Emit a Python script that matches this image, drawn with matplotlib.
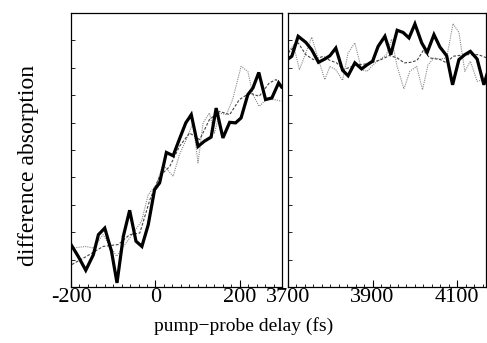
import matplotlib
matplotlib.use("Agg")
import matplotlib.pyplot as plt
from matplotlib.ticker import MultipleLocator, NullFormatter

plt.rcParams['font.family'] = ['Liberation Serif', 'DejaVu Serif']

# ---- left panel (early delays) ----
left_x_thick = [-200, -183, -165, -147, -135, -120, -104, -91, -76, -61, -46, -32, -17, -2,
                10, 26, 42, 57, 72, 85, 101, 116, 132, 144, 160, 176, 190, 203, 219, 231,
                245, 261, 276, 292, 299]
left_y_thick = [0.155, 0.112, 0.061, 0.118, 0.191, 0.215, 0.130, 0.015, 0.185, 0.280, 0.167,
                0.148, 0.227, 0.355, 0.380, 0.491, 0.479, 0.540, 0.599, 0.629, 0.513, 0.532,
                0.547, 0.653, 0.544, 0.601, 0.599, 0.617, 0.702, 0.726, 0.783, 0.684, 0.690,
                0.745, 0.730]

left_x_dot = [-198, -165, -147, -124, -92, -61, -33, -17, 2, 18, 42, 57, 73, 89, 101, 113,
              128, 140, 152, 168, 183, 203, 219, 231, 246, 262, 282, 299]
left_y_dot = [0.142, 0.148, 0.142, 0.191, 0.112, 0.179, 0.240, 0.337, 0.373, 0.446, 0.404,
              0.483, 0.538, 0.599, 0.453, 0.599, 0.635, 0.562, 0.635, 0.629, 0.684, 0.805,
              0.787, 0.702, 0.659, 0.684, 0.684, 0.678]

left_x_dash = [-198, -163, -124, -88, -61, -37, -13, 10, 34, 57, 81, 105, 128, 152, 176,
               199, 223, 246, 270, 286, 299]
left_y_dash = [0.082, 0.112, 0.148, 0.155, 0.191, 0.197, 0.319, 0.404, 0.440, 0.513, 0.562,
               0.538, 0.611, 0.641, 0.629, 0.684, 0.708, 0.696, 0.745, 0.757, 0.726]

# ---- right panel (late delays) ----
right_x_thick = [3700, 3709, 3724, 3742, 3756, 3772, 3787, 3799, 3813, 3829, 3842, 3858,
                 3874, 3887, 3900, 3913, 3929, 3943, 3958, 3972, 3986, 4000, 4016, 4029,
                 4045, 4059, 4075, 4089, 4104, 4118, 4131, 4147, 4163, 4170]
right_y_thick = [0.832, 0.842, 0.915, 0.893, 0.866, 0.820, 0.832, 0.844, 0.872, 0.791, 0.771,
                 0.818, 0.796, 0.811, 0.824, 0.878, 0.915, 0.848, 0.937, 0.929, 0.909, 0.960,
                 0.891, 0.856, 0.921, 0.876, 0.844, 0.738, 0.830, 0.848, 0.860, 0.832, 0.738,
                 0.775]

right_x_dot = [3700, 3713, 3727, 3742, 3756, 3772, 3787, 3799, 3813, 3829, 3842, 3858, 3874,
               3887, 3901, 3917, 3933, 3945, 3958, 3974, 3988, 4004, 4018, 4031, 4045, 4059,
               4075, 4090, 4104, 4118, 4131, 4147, 4163]
right_y_dot = [0.854, 0.884, 0.793, 0.854, 0.912, 0.830, 0.757, 0.805, 0.793, 0.754, 0.854,
               0.891, 0.793, 0.787, 0.811, 0.830, 0.848, 0.905, 0.805, 0.723, 0.787, 0.805,
               0.720, 0.811, 0.836, 0.832, 0.836, 0.961, 0.929, 0.787, 0.824, 0.751, 0.757]

right_x_dash = [3700, 3724, 3742, 3760, 3784, 3799, 3815, 3831, 3860, 3890, 3920, 3940, 3958,
                3975, 3990, 4005, 4020, 4035, 4060, 4075, 4090, 4120, 4150, 4170]
right_y_dash = [0.854, 0.891, 0.848, 0.830, 0.842, 0.827, 0.818, 0.793, 0.810, 0.815, 0.830,
                0.845, 0.836, 0.818, 0.820, 0.827, 0.864, 0.836, 0.830, 0.818, 0.842, 0.848,
                0.848, 0.836]

left_ticks = [-200, 0, 200]
left_tick_labels = ['-200', '0', '200']
right_ticks = [3700, 3900, 4100]
right_tick_labels = ['3700', '3900', '4100']

W, H = 487, 343
fig = plt.figure(figsize=(W / 100, H / 100), dpi=100)
ax1 = fig.add_axes([71 / W, 1 - 287 / H, 211 / W, 274 / H])
ax2 = fig.add_axes([288 / W, 1 - 287 / H, 198 / W, 274 / H])

for ax, xs in ((ax1, (left_x_dot, left_y_dot, left_x_dash, left_y_dash, left_x_thick, left_y_thick)),
               (ax2, (right_x_dot, right_y_dot, right_x_dash, right_y_dash, right_x_thick, right_y_thick))):
    xd, yd, xda, yda, xt, yt = xs
    ax.plot(xd, yd, color='#888888', lw=0.8, ls=(0, (1, 1)))
    ax.plot(xda, yda, color='#444444', lw=0.8, ls=(0, (2.5, 1.5)))
    ax.plot(xt, yt, color='black', lw=2.3, solid_joinstyle='miter')
    ax.set_ylim(0, 1)
    ax.yaxis.set_major_locator(MultipleLocator(0.1))
    ax.yaxis.set_major_formatter(NullFormatter())
    ax.xaxis.set_minor_locator(MultipleLocator(20))
    ax.tick_params(direction='in', which='both', labelsize=16, top=False, right=False)
    ax.tick_params(axis='y', length=3, width=0.6)
    ax.tick_params(axis='x', which='major', length=5, width=0.8, pad=1)
    ax.tick_params(axis='x', which='minor', length=2.5, width=0.6)
    for s in ax.spines.values():
        s.set_linewidth(0.9)

ax1.set_xlim(-200, 300)
ax1.set_xticks(left_ticks)
ax1.set_xticklabels(left_tick_labels)
ax2.set_xlim(3700, 4168)
ax2.set_xticks(right_ticks)
ax2.set_xticklabels(right_tick_labels)

fig.text(244 / W, 1 - 326 / H, 'pump\u2212probe delay (fs)', ha='center', va='center', fontsize=14)
fig.text(29 / W, 1 - 166 / H, 'difference absorption', ha='center', va='center',
         rotation=90, fontsize=17)

fig.savefig('out.png', dpi=100)
